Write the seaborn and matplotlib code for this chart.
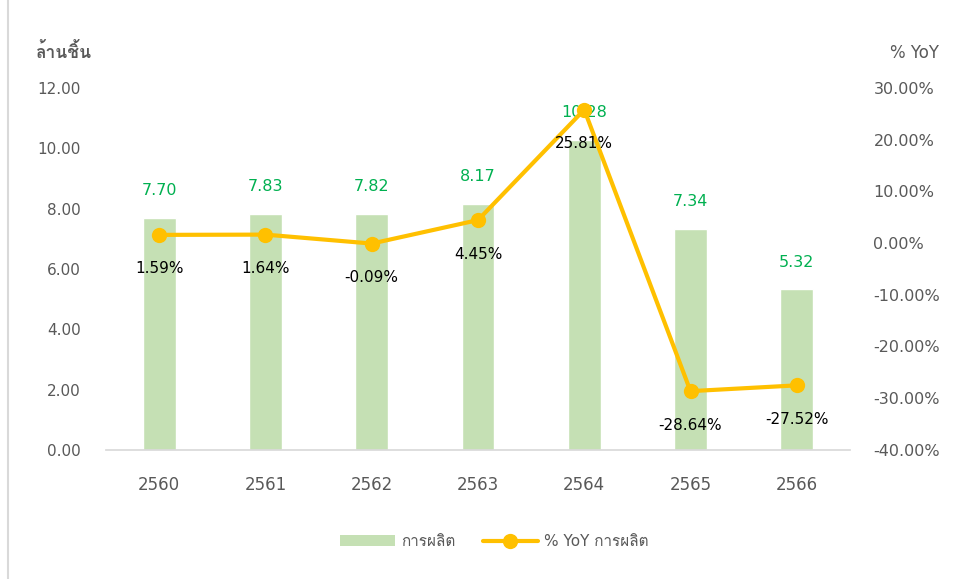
import matplotlib
matplotlib.use("Agg")
import matplotlib.pyplot as plt
from matplotlib import font_manager
from matplotlib.ft2font import FT2Font
import seaborn as sns
import pandas as pd
from matplotlib.lines import Line2D
from matplotlib.patches import Patch, Rectangle

years = ["2560", "2561", "2562", "2563", "2564", "2565", "2566"]
production = [7.70, 7.83, 7.82, 8.17, 10.28, 7.34, 5.32]
yoy = [1.59, 1.64, -0.09, 4.45, 25.81, -28.64, -27.52]
left_ticks = [0, 2, 4, 6, 8, 10, 12]
right_ticks = [-40, -30, -20, -10, 0, 10, 20, 30]

# find an installed family that has Thai glyphs
thai_fams = []
for fe in font_manager.fontManager.ttflist:
    try:
        f = FT2Font(fe.fname)
        cmap = f.get_charmap()
        if 0x0E01 in cmap and 0x0E34 in cmap and fe.name not in thai_fams:
            thai_fams.append(fe.name)
    except Exception:
        pass

sns.set_theme(style="white")
plt.rcParams['font.family'] = ['DejaVu Sans'] + thai_fams

df = pd.DataFrame({"year": years, "production": production, "yoy": yoy})

fig = plt.figure(figsize=(9.56, 5.79), dpi=100)
ax = fig.add_axes([0.111, 0.223, 0.778, 0.625])
sns.barplot(data=df, x="year", y="production", color="#C5E0B4", width=0.31,
            saturation=1, ax=ax)
ax.set_ylim(0, 12)
ax.set_yticks(left_ticks)
ax.set_yticklabels([f"{v:.2f}" for v in left_ticks])
ax.set_xlabel("")
ax.set_ylabel("")
for s in ["top", "right", "left"]:
    ax.spines[s].set_visible(False)
ax.spines["bottom"].set_color("#D9D9D9")
ax.tick_params(axis="both", length=0, colors="#595959", labelsize=11)
ax.tick_params(axis="x", pad=19, labelsize=12)
ax.tick_params(axis="y", pad=18)
ax.set_xlim(-0.5, len(years) - 0.5)
for i, v in enumerate(production):
    ax.text(i, v + 0.65, f"{v:.2f}", ha="center", va="bottom", color="#00B050",
            fontsize=11.5)

ax2 = ax.twinx()
sns.lineplot(x=list(range(len(years))), y=yoy, ax=ax2, color="#FFC000",
             linewidth=3, marker="o", markersize=11, markeredgewidth=0)
ax2.set_ylim(-40, 30)
ax2.set_yticks(right_ticks)
ax2.set_yticklabels([f"{v:.2f}%" for v in right_ticks])
for s in ["top", "right", "left", "bottom"]:
    ax2.spines[s].set_visible(False)
ax2.tick_params(axis="y", length=0, colors="#595959", labelsize=11.5, pad=17)
for i, v in enumerate(yoy):
    ax2.text(i, v - 6.6, f"{v:.2f}%", ha="center", va="center", color="black",
             fontsize=11)

fig.text(0.038, 0.91, "ล้านชิ้น", fontsize=12.5, color="#595959",
         fontweight="bold", ha="left", va="center")
fig.text(0.982, 0.908, "% YoY", fontsize=12, color="#595959",
         ha="right", va="center")

handles = [Patch(facecolor="#C5E0B4", edgecolor="none"),
           Line2D([0], [0], color="#FFC000", linewidth=3, marker="o",
                  markersize=11, markeredgewidth=0)]
fig.legend(handles, ["การผลิต", "% YoY การผลิต"], loc="center",
           bbox_to_anchor=(0.517, 0.065), ncol=2, frameon=False,
           fontsize=11, labelcolor="#595959", handlelength=3.6,
           handletextpad=0.4, columnspacing=1.8)

fig.patches.append(Rectangle((0.008, -0.01), 1.1, 1.1, transform=fig.transFigure,
                             fill=False, edgecolor="#D9D9D9", linewidth=1.5))

fig.savefig("out.png", dpi=100)
